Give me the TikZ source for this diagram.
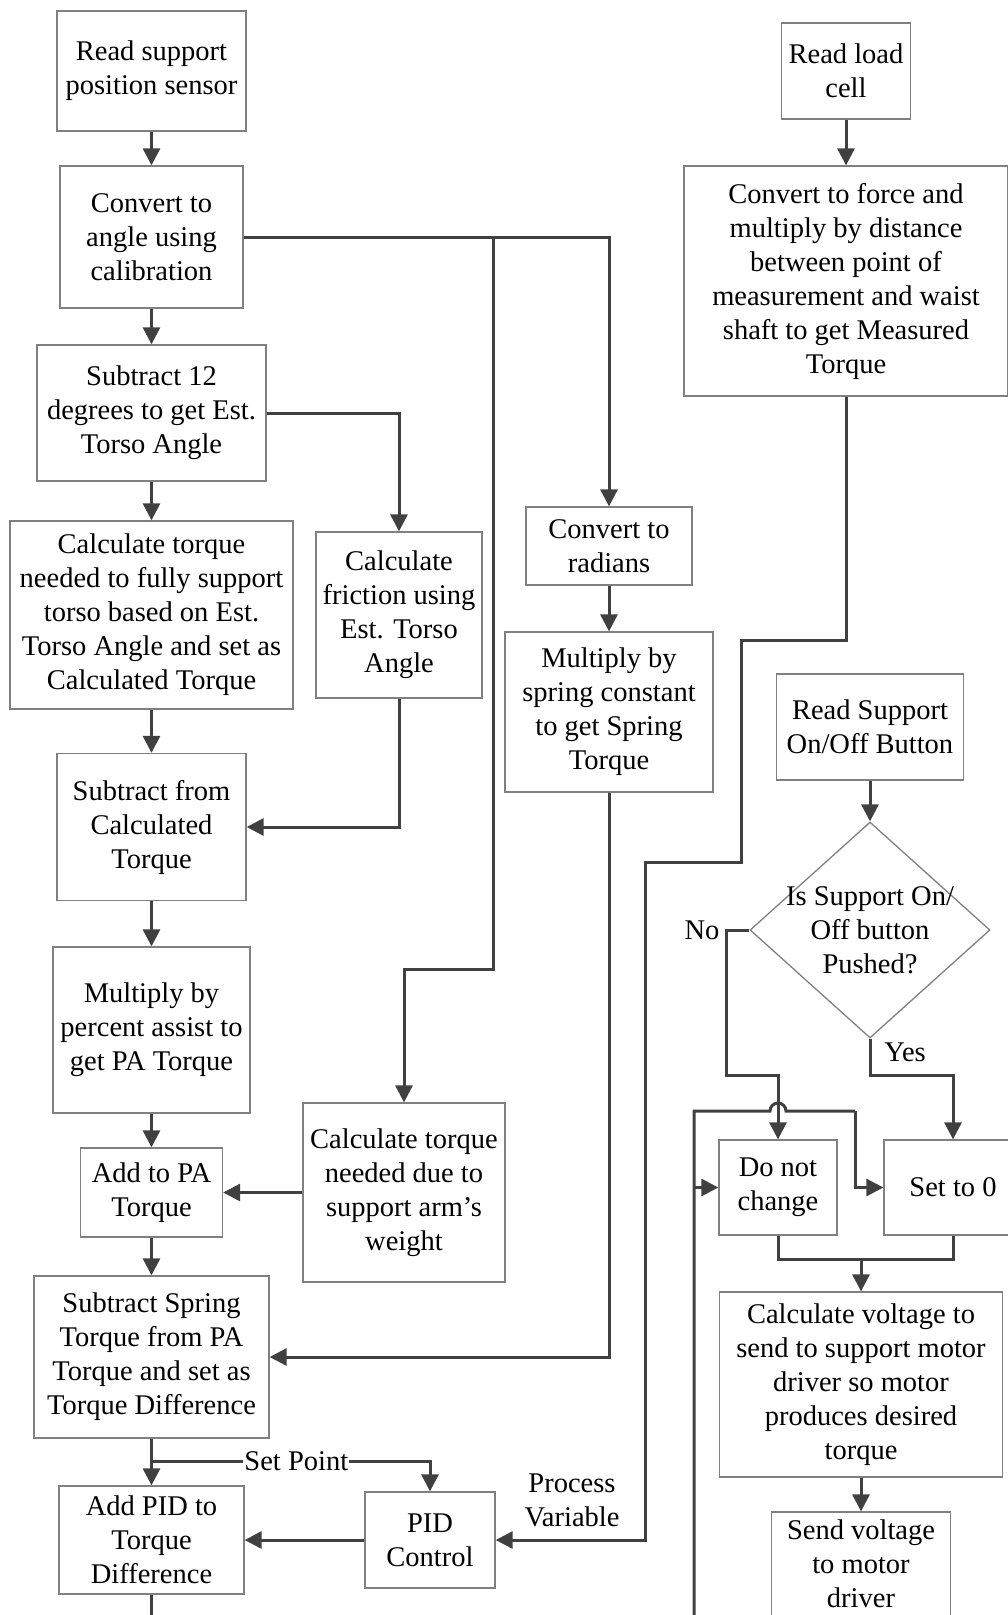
\documentclass[tikz,border=0pt]{standalone}
\usepackage{fontspec}
\setmainfont{Liberation Serif}
\usetikzlibrary{arrows.meta,shapes.geometric,calc}
\definecolor{linegray}{HTML}{404040}
\definecolor{boxgray}{HTML}{808080}

\begin{document}
\begin{tikzpicture}[x=1pt, y=-1pt, font=\fontsize{28.5}{34}\selectfont,
	box/.style={draw=boxgray, line width=1.3pt, align=center, inner sep=0pt},
	flow/.style={draw=linegray, line width=3pt, -{Triangle[length=17pt,width=17pt]}},
	wire/.style={draw=linegray, line width=3pt}]
	\useasboundingbox (0,0) rectangle (1008,1615);
	\node[box, minimum width=189pt, minimum height=120pt] (rdsens) at (151.5,71) {Read support\\position sensor};
	\node[box, minimum width=183pt, minimum height=142pt] (toangle) at (151.5,237) {Convert to\\angle using\\calibration};
	\node[box, minimum width=229pt, minimum height=136pt] (subtwelve) at (151.5,413) {Subtract 12\\degrees to get Est.\\Torso Angle};
	\node[box, minimum width=283pt, minimum height=188pt] (calcfull) at (151.5,615) {Calculate torque\\needed to fully support\\torso based on Est.\\Torso Angle and set as\\Calculated Torque};
	\node[box, minimum width=166pt, minimum height=166pt] (friction) at (399,615) {Calculate\\friction using\\Est. Torso\\Angle};
	\node[box, minimum width=189pt, minimum height=147pt] (subcalc) at (151.5,827) {Subtract from\\Calculated\\Torque};
	\node[box, minimum width=197pt, minimum height=166pt] (percent) at (151.5,1030) {Multiply by\\percent assist to\\get PA Torque};
	\node[box, minimum width=142pt, minimum height=89pt] (addpa) at (151.5,1192.5) {Add to PA\\Torque};
	\node[box, minimum width=202pt, minimum height=179pt] (armweight) at (404,1192.5) {Calculate torque\\needed due to\\support arm’s\\weight};
	\node[box, minimum width=235pt, minimum height=162pt] (subspring) at (151.5,1357) {Subtract Spring\\Torque from PA\\Torque and set as\\Torque Difference};
	\node[box, minimum width=185pt, minimum height=108pt] (addpid) at (151.5,1540) {Add PID to\\Torque\\Difference};
	\node[box, minimum width=130pt, minimum height=96pt] (pid) at (430,1540) {PID\\Control};
	\node[box, minimum width=166pt, minimum height=78pt] (radians) at (609,546) {Convert to\\radians};
	\node[box, minimum width=208pt, minimum height=160pt] (spring) at (609,712) {Multiply by\\spring constant\\to get Spring\\Torque};
	\node[box, minimum width=129pt, minimum height=96pt] (loadcell) at (846,71) {Read load\\cell};
	\node[box, minimum width=324pt, minimum height=230pt] (force) at (846,281) {Convert to force and\\multiply by distance\\between point of\\measurement and waist\\shaft to get Measured\\Torque};
	\node[box, minimum width=187pt, minimum height=106pt] (onoff) at (870,727) {Read Support\\On/Off Button};
	\node[diamond, draw=boxgray, line width=1.3pt, inner sep=0pt, minimum width=240pt, minimum height=216pt,
		label={[align=center]center:Is Support On/\\Off button\\Pushed?}] (pushed) at (870,930) {};
	\node[box, minimum width=118pt, minimum height=95pt] (nochange) at (778,1187.5) {Do not\\change};
	\node[box, minimum width=138pt, minimum height=95pt] (settozero) at (953,1187.5) {Set to 0};
	\node[box, minimum width=283pt, minimum height=185pt] (calcvolt) at (861,1384.5) {Calculate voltage to\\send to support motor\\driver so motor\\produces desired\\torque};
	\node[box, minimum width=179pt, minimum height=104pt] (sendvolt) at (861,1564) {Send voltage\\to motor\\driver};
	\node (nolabel) at (702,930) {No};
	\node (yeslabel) at (905,1052) {Yes};
	\node[align=center] (pvlabel) at (572,1500) {Process\\Variable};
	\coordinate (splitA) at (493,237);
	\coordinate (bendA) at (493,969);
	\coordinate (setpt) at (151.5,1461);
	\coordinate (pidout) at (151.5,1630);
	\coordinate (mtA) at (846,640);
	\coordinate (mtB) at (741,862);
	\coordinate (mtC) at (645,1540);
	\coordinate (noturn) at (726,1075);
	\coordinate (yesturn) at (870,1075);
	\coordinate (loopin) at (694,1630);
	\coordinate (loopA) at (694,1111);
	\coordinate (loopB) at (855,1111);
	\coordinate (merge) at (861,1259);
	\draw[flow] (rdsens) -- (toangle);
	\draw[flow] (toangle) -- (subtwelve);
	\draw[flow] (subtwelve) -- (calcfull);
	\draw[flow] (calcfull) -- (subcalc);
	\draw[flow] (subcalc) -- (percent);
	\draw[flow] (percent) -- (addpa);
	\draw[flow] (addpa) -- (subspring);
	\draw[flow] (subspring) -- (addpid);
	\draw[wire] (addpid.south) -- (pidout);
	\draw[flow] (setpt) -| node[pos=0.26, fill=white, inner sep=1pt] {Set Point} (pid.north);
	\draw[flow] (toangle.east) -| (radians.north);
	\draw[flow] (splitA) -- (bendA) -| (armweight.north);
	\draw[flow] (subtwelve.east) -| (friction.north);
	\draw[flow] (friction.south) |- (subcalc.east);
	\draw[flow] (radians) -- (spring);
	\draw[flow] (spring.south) |- (subspring.east);
	\draw[flow] (armweight.west) -- (addpa.east);
	\draw[flow] (pid.west) -- (addpid.east);
	\draw[flow] (loadcell) -- (force);
	\draw[flow] (force.south) -- (mtA) -| (mtB) -| (mtC) -- (pid.east);
	\draw[flow] (onoff) -- (pushed);
	\draw[flow] (pushed.west) -| (noturn) -| (nochange.north);
	\draw[flow] (pushed.south) -- (yesturn) -| (settozero.north);
	\draw[wire] (loopin) -- (loopA) -- ($(nochange.north |- loopA)+(-8,0)$) arc[start angle=180, end angle=0, radius=8pt] -- (loopB);
	\draw[flow] (loopB) |- (settozero.west);
	\draw[flow] (loopA |- nochange.west) -- (nochange.west);
	\draw[wire] (nochange.south) |- (merge) -| (settozero.south);
	\draw[flow] (merge) -- (calcvolt.north);
	\draw[flow] (calcvolt) -- (sendvolt);
\end{tikzpicture}
\end{document}
